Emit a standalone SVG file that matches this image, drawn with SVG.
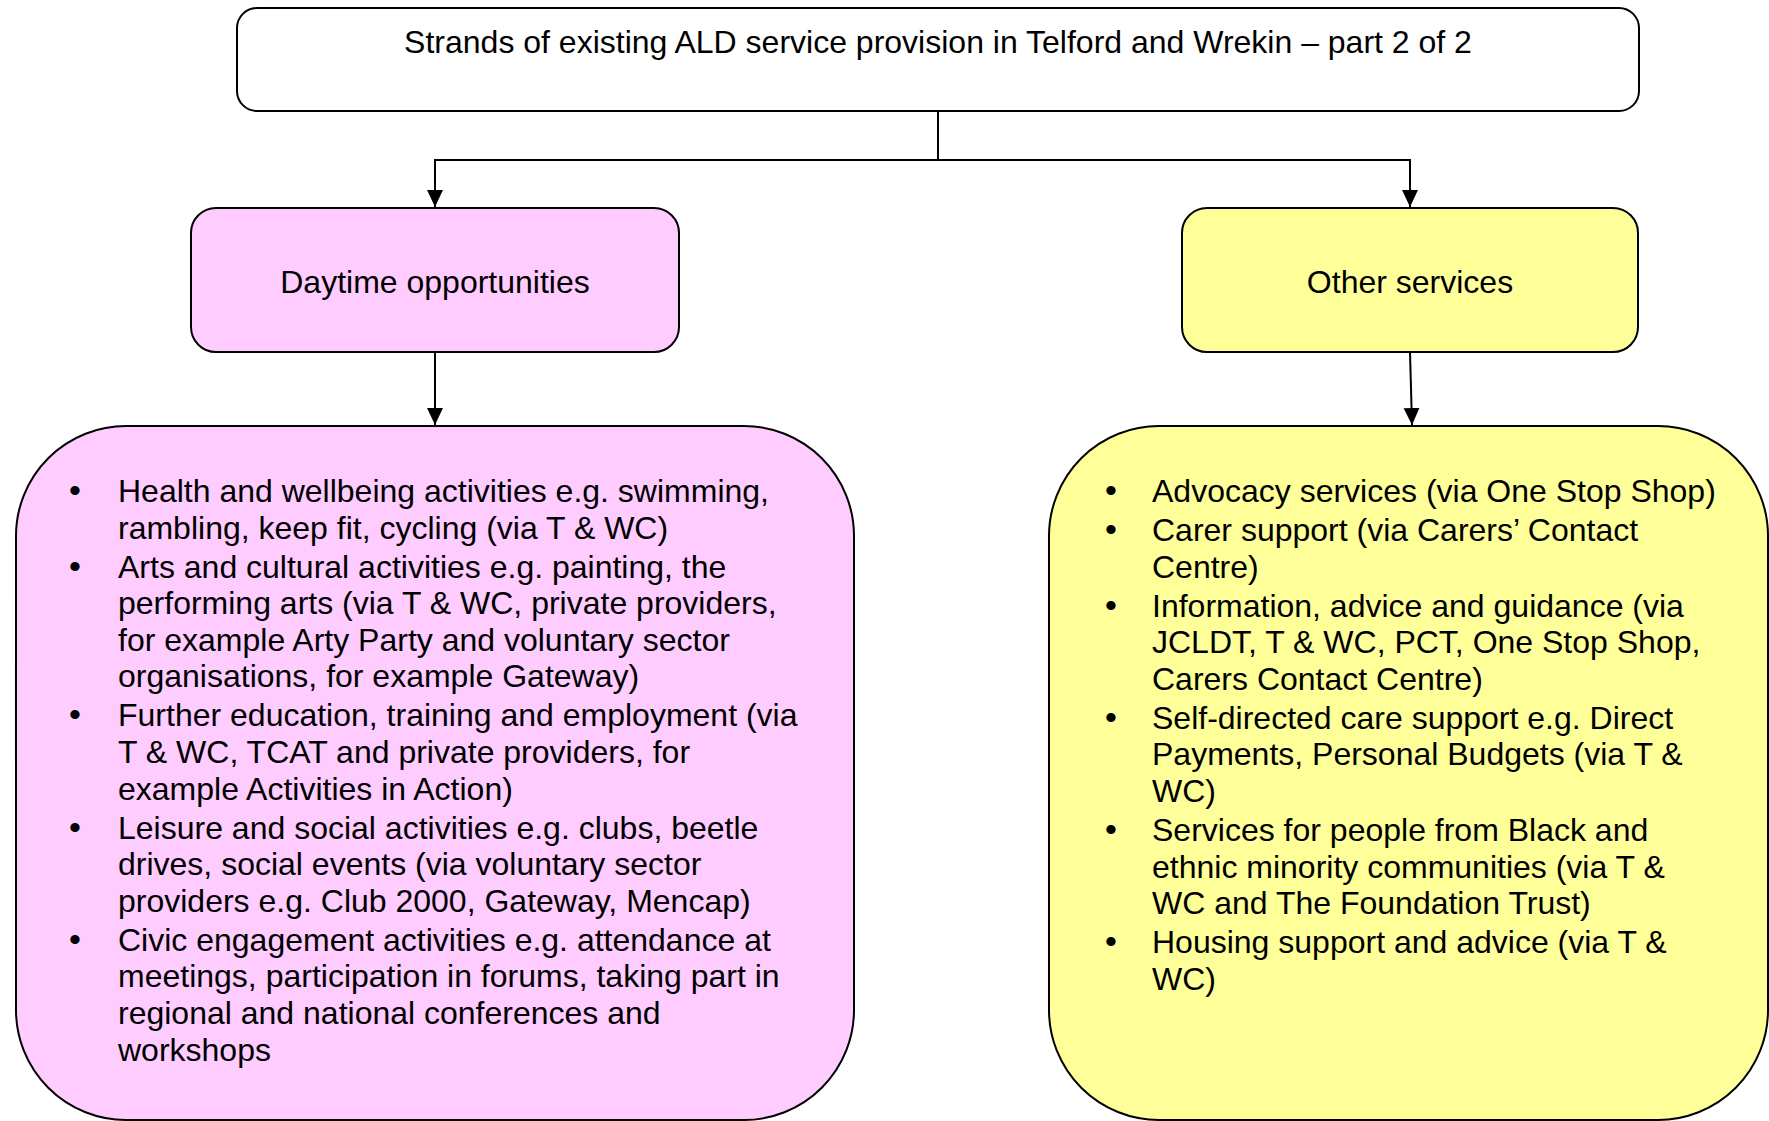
<svg xmlns="http://www.w3.org/2000/svg" width="1769" height="1121" viewBox="0 0 1769 1121">
  <style>
    .box { stroke: #000; stroke-width: 2; }
    .plain { fill: #fff; }
    .pink { fill: #ffccff; }
    .yellow { fill: #ffff99; }
    text { font-family: "Liberation Sans", Arial, sans-serif; font-size: 32px; fill: #000; }
    .c { text-anchor: middle; }
    .bullet { text-anchor: middle; font-size: 34px; }
    .edge { fill: none; stroke: #000; stroke-width: 2; }
  </style>
  <defs>
    <marker id="arrow" markerUnits="userSpaceOnUse" markerWidth="18" markerHeight="18" viewBox="0 -8 17 16" refX="16" refY="0" orient="auto">
      <path d="M0,-7.5 L16,0 L0,7.5 Z" fill="#000"/>
    </marker>
  </defs>

  <rect width="1769" height="1121" fill="#fff"/>

  <!-- connectors -->
  <g id="connectors">
    <path class="edge" d="M938,111 V160 H435 V207" marker-end="url(#arrow)"/>
    <path class="edge" d="M938,160 H1410 V207" marker-end="url(#arrow)"/>
    <path class="edge" d="M435,352 V425" marker-end="url(#arrow)"/>
    <path class="edge" d="M1410,352 L1412,425" marker-end="url(#arrow)"/>
  </g>

  <!-- title -->
  <g id="title">
    <rect class="box plain" x="237" y="8" width="1402" height="103" rx="20" ry="20"/>
    <text class="c" x="938" y="53">Strands of existing ALD service provision in Telford and Wrekin – part 2 of 2</text>
  </g>

  <!-- branch headers -->
  <g id="daytime">
    <rect class="box pink" x="191" y="208" width="488" height="144" rx="25" ry="25"/>
    <text class="c" x="435" y="293">Daytime opportunities</text>
  </g>

  <g id="other">
    <rect class="box yellow" x="1182" y="208" width="456" height="144" rx="25" ry="25"/>
    <text class="c" x="1410" y="293">Other services</text>
  </g>

  <!-- daytime activity list -->
  <g id="daytime-list">
    <rect class="box pink" x="16" y="426" width="838" height="694" rx="110" ry="110"/>
    <g>
      <text class="bullet" x="75" y="502">•</text>
      <text class="bullet" x="75" y="577.6">•</text>
      <text class="bullet" x="75" y="726.4">•</text>
      <text class="bullet" x="75" y="838.6">•</text>
      <text class="bullet" x="75" y="950.8">•</text>
    </g>
    <g>
      <text x="118" y="502">Health and wellbeing activities e.g. swimming,</text>
      <text x="118" y="538.6">rambling, keep fit, cycling (via T &amp; WC)</text>
      <text x="118" y="577.6">Arts and cultural activities e.g. painting, the</text>
      <text x="118" y="614.2">performing arts (via T &amp; WC, private providers,</text>
      <text x="118" y="650.8">for example Arty Party and voluntary sector</text>
      <text x="118" y="687.4">organisations, for example Gateway)</text>
      <text x="118" y="726.4">Further education, training and employment (via</text>
      <text x="118" y="763">T &amp; WC, TCAT and private providers, for</text>
      <text x="118" y="799.6">example Activities in Action)</text>
      <text x="118" y="838.6">Leisure and social activities e.g. clubs, beetle</text>
      <text x="118" y="875.2">drives, social events (via voluntary sector</text>
      <text x="118" y="911.8">providers e.g. Club 2000, Gateway, Mencap)</text>
      <text x="118" y="950.8">Civic engagement activities e.g. attendance at</text>
      <text x="118" y="987.4">meetings, participation in forums, taking part in</text>
      <text x="118" y="1024">regional and national conferences and</text>
      <text x="118" y="1060.6">workshops</text>
    </g>
  </g>

  <!-- other services list -->
  <g id="other-list">
    <rect class="box yellow" x="1049" y="426" width="719" height="694" rx="110" ry="110"/>
    <g>
      <text class="bullet" x="1111" y="502">•</text>
      <text class="bullet" x="1111" y="540.9">•</text>
      <text class="bullet" x="1111" y="616.5">•</text>
      <text class="bullet" x="1111" y="728.7">•</text>
      <text class="bullet" x="1111" y="840.9">•</text>
      <text class="bullet" x="1111" y="953.1">•</text>
    </g>
    <g>
      <text x="1152" y="502">Advocacy services (via One Stop Shop)</text>
      <text x="1152" y="540.9">Carer support (via Carers’ Contact</text>
      <text x="1152" y="577.5">Centre)</text>
      <text x="1152" y="616.5">Information, advice and guidance (via</text>
      <text x="1152" y="653.1">JCLDT, T &amp; WC, PCT, One Stop Shop,</text>
      <text x="1152" y="689.7">Carers Contact Centre)</text>
      <text x="1152" y="728.7">Self-directed care support e.g. Direct</text>
      <text x="1152" y="765.3">Payments, Personal Budgets (via T &amp;</text>
      <text x="1152" y="801.9">WC)</text>
      <text x="1152" y="840.9">Services for people from Black and</text>
      <text x="1152" y="877.5">ethnic minority communities (via T &amp;</text>
      <text x="1152" y="914.1">WC and The Foundation Trust)</text>
      <text x="1152" y="953.1">Housing support and advice (via T &amp;</text>
      <text x="1152" y="989.7">WC)</text>
    </g>
  </g>
</svg>
